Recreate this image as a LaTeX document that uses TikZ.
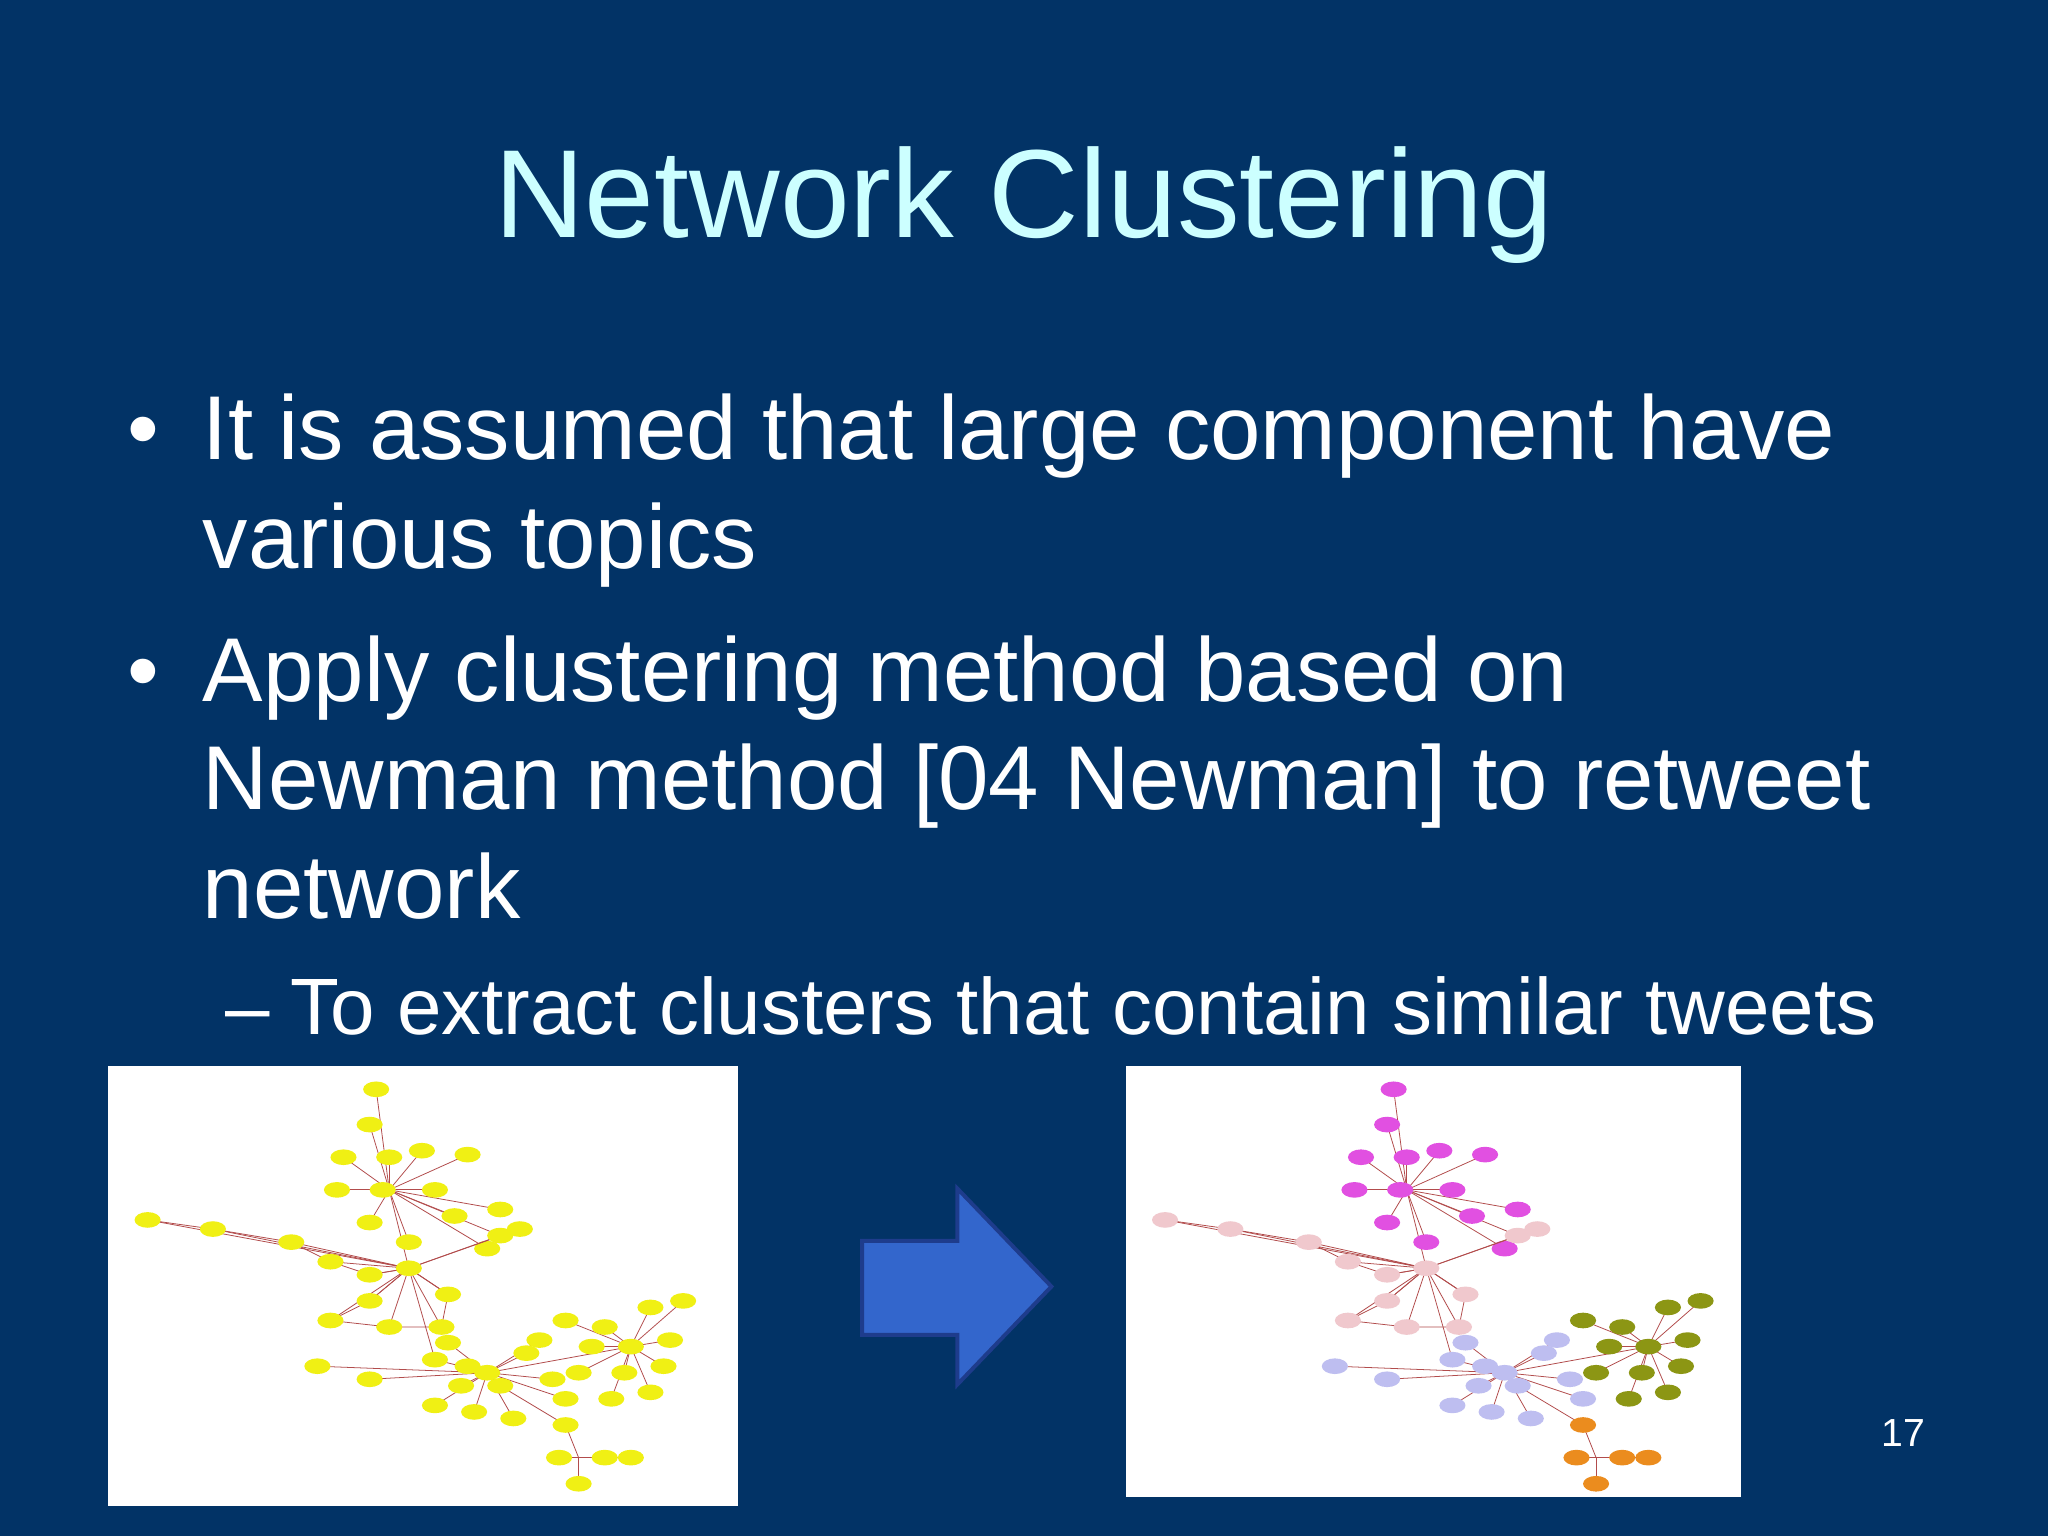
\documentclass[tikz,border=0pt]{standalone}
\usepackage{fontspec}
\setmainfont{Liberation Sans}
\definecolor{bg}{RGB}{2,51,102}
\definecolor{ttl}{RGB}{204,255,255}
\definecolor{arrf}{RGB}{51,102,204}
\definecolor{arrd}{RGB}{30,60,140}
\definecolor{yel}{RGB}{240,240,20}
\definecolor{pnk}{RGB}{225,80,225}
\definecolor{lpk}{RGB}{240,200,205}
\definecolor{lav}{RGB}{190,190,240}
\definecolor{olv}{RGB}{140,150,20}
\definecolor{org}{RGB}{235,140,30}
\tikzset{
 body/.style={text=white,anchor=base west,inner sep=0pt,font=\fontsize{34.7}{40}\selectfont},
 sub/.style={text=white,anchor=base west,inner sep=0pt,font=\fontsize{30.6}{36}\selectfont},
 edge/.style={draw=red!40!gray,line width=0.3pt},
 pic/.style={fill=white,draw=none}
}
\newcommand{\grp}[3]{%
 \foreach \p in {#3} {\draw[edge] #2 -- \p;}
 \foreach \p in {#3} {\fill[#1] \p ellipse (5pt and 3pt);}}
\newcommand{\netw}[5]{%
 \draw[edge] (215,95) -- (230,155) -- (250,225);
 \draw[edge] (290,235) -- (400,215);
 \draw[edge] (300,245) -- (350,275);
 \draw[edge] (215,95) -- (300,130);
 \grp{#1}{(215,95)}{(205,18),(200,45),(215,70),(180,70),(240,65),(175,95),(210,95),(250,95),(275,68),(265,115),(200,120),(230,135),(300,110),(290,140)}
 \draw[edge] (30,118)--(80,125)--(140,135)--(170,150)--(200,160)--(230,155)--(260,175)--(255,200)--(215,200)--(170,195)--(200,180)--(230,155);
 \grp{#2}{(230,155)}{(30,118),(80,125),(140,135),(170,150),(200,160),(230,155),(260,175),(200,180),(170,195),(215,200),(255,200),(300,130),(315,125)}
 \grp{#3}{(290,235)}{(250,225),(260,212),(275,230),(290,235),(320,220),(330,210),(270,245),(300,245),(340,240),(250,260),(280,265),(310,270),(350,255),(160,230),(200,240)}
 \grp{#4}{(400,215)}{(350,195),(380,200),(415,185),(440,180),(370,215),(400,215),(430,210),(360,235),(395,235),(425,230),(415,250),(385,255)}
 \grp{#5}{(360,300)}{(350,275),(345,300),(360,320),(380,300),(400,300)}
}
\begin{document}
\begin{tikzpicture}[x=0.5pt,y=-0.5pt]
\fill[bg] (0,0) rectangle (1568,1176);
\node[text=ttl,anchor=base,inner sep=0pt,font=\fontsize{48}{56}\selectfont] (title) at (784,182) {Network Clustering};
\node[body] (b1) at (97,352) {•};
\node[body] (t1) at (155,352) {It is assumed that large component have};
\node[body] (t2) at (155,435) {various topics};
\node[body] (b2) at (97,537) {•};
\node[body] (t3) at (155,537) {Apply clustering method based on};
\node[body] (t4) at (155,620) {Newman method [04 Newman] to retweet};
\node[body] (t5) at (155,703) {network};
\node[sub] (s1) at (172,792) {–};
\node[sub] (s2) at (222,792) {To extract clusters that contain similar tweets};
\node[text=white,inner sep=0pt,font=\fontsize{15}{18}\selectfont] (pg) at (1457,1097) {17};
\fill[pic] (83,816) rectangle (565,1153);
\begin{scope}[shift={(83,816)}]
\netw{yel}{yel}{yel}{yel}{yel}
\end{scope}
\fill[pic] (862,816) rectangle (1333,1146);
\begin{scope}[shift={(862,816)}]
\netw{pnk}{lpk}{lav}{olv}{org}
\end{scope}
\draw[fill=arrf,draw=arrd,line width=1.5pt] (660,950) -- (733,950) -- (733,910) -- (805,985) -- (733,1060) -- (733,1022) -- (660,1022) -- cycle;
\end{tikzpicture}
\end{document}
